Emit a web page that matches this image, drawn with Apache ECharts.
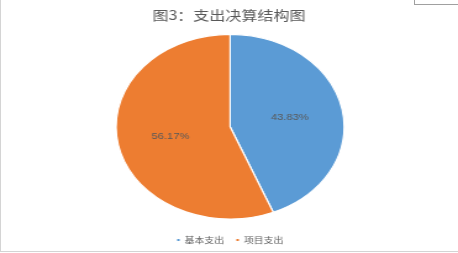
<!DOCTYPE html>
<html>
<head>
<meta charset="utf-8">
<script src="https://cdn.jsdelivr.net/npm/echarts@6/dist/echarts.min.js"></script>
<style>
html,body{margin:0;padding:0;background:#fff;width:458px;height:253px;overflow:hidden;}
#chart{position:absolute;left:0;top:0;width:371px;height:253px;transform-origin:0 0;transform:scaleX(1.2345);}
.ln{position:absolute;}
</style>
</head>
<body>
<div id="chart"></div>
<div class="ln" style="left:0;top:0;width:1px;height:252px;background:#d4d4d4;"></div>
<div class="ln" style="left:0;top:251px;width:458px;height:1px;background:#d4d4d4;"></div>
<div class="ln" style="left:414px;top:0;width:1px;height:5px;background:#a0a0a0;"></div>
<div class="ln" style="left:414px;top:4px;width:44px;height:1px;background:#a0a0a0;"></div>
<script>
var titleText = '图3：支出决算结构图';
var categories = ['基本支出', '项目支出'];
var values = [43.83, 56.17];
var colors = ['#5B9BD5', '#ED7D31'];

var chart = echarts.init(document.getElementById('chart'));
chart.setOption({
  animation: false,
  color: colors,
  title: {
    text: titleText,
    left: 'center',
    top: 4,
    textStyle: {fontSize: 13, fontWeight: 'normal', color: '#595959', fontFamily: 'Noto Sans CJK SC'}
  },
  legend: {
    data: categories,
    top: 231,
    left: 'center',
    itemWidth: 4,
    itemHeight: 4,
    itemGap: 8,
    icon: 'rect',
    textStyle: {fontSize: 8, color: '#595959', fontFamily: 'Noto Sans CJK SC', padding: [0, 0, 0, -2]}
  },
  series: [{
    type: 'pie',
    center: [186.4, 126.7],
    radius: 92.4,
    startAngle: 90,
    clockwise: true,
    silent: true,
    itemStyle: {borderColor: '#fff', borderWidth: 1.2},
    label: {
      show: true,
      position: 'inside',
      formatter: function (p) { return p.value.toFixed(2) + '%'; },
      fontSize: 9,
      color: '#595959',
      fontFamily: 'Liberation Sans'
    },
    labelLine: {show: false},
    data: categories.map(function (c, i) { return {name: c, value: values[i]}; })
  }]
});
</script>
</body>
</html>
